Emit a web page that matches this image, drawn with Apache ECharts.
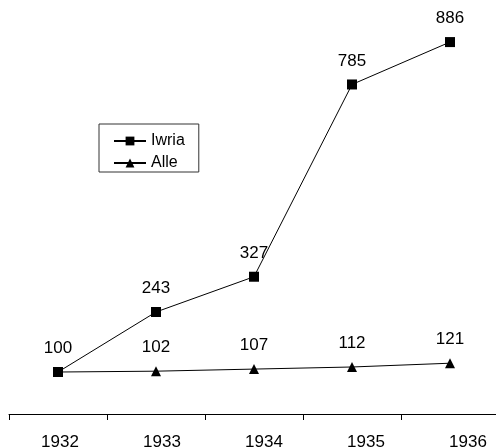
<!DOCTYPE html>
<html><head><meta charset="utf-8">
<script src="https://cdn.jsdelivr.net/npm/echarts@6/dist/echarts.min.js"></script>
<style>html,body{margin:0;padding:0;background:#fff}#c{width:496px;height:447px}</style>
</head><body><div id="c"></div>
<script>
const categories = ['1932','1933','1934','1935','1936'];
const iwria = [100, 243, 327, 785, 886];
const alle = [100, 102, 107, 112, 121];
const seriesNames = ['Iwria','Alle'];

const FONT = '"Liberation Sans", Arial, sans-serif';
const chart = echarts.init(document.getElementById('c'));
const labelStyle = {show:true, position:'top', distance:10, color:'#000', fontSize:17, fontFamily:FONT};
chart.setOption({
  animation:false,
  backgroundColor:'#fff',
  textStyle:{fontFamily:FONT},
  grid:[
    {left:9, width:490, top:36.2, bottom:33, containLabel:false, outerBoundsMode:'none'},
    {left:9, width:510, top:36.2, bottom:33, containLabel:false, outerBoundsMode:'none'}
  ],
  legend:{
    data:seriesNames, orient:'vertical', left:99, top:124,
    itemWidth:32, itemHeight:11, itemGap:6,
    padding:[9,14,1,14], borderColor:'#333', borderWidth:1,
    textStyle:{fontSize:16, color:'#000', fontFamily:FONT}
  },
  xAxis:[
    {type:'category', gridIndex:0, data:categories, boundaryGap:true,
     axisLine:{lineStyle:{color:'#000', width:1}},
     axisTick:{show:true, length:6, lineStyle:{color:'#000'}},
     axisLabel:{show:false}},
    {type:'category', gridIndex:1, data:categories, boundaryGap:true,
     axisLine:{show:false}, axisTick:{show:false},
     axisLabel:{show:true, margin:20, color:'#000', fontSize:17, fontFamily:FONT}}
  ],
  yAxis:[
    {type:'value', gridIndex:0, min:0, max:900, show:false},
    {type:'value', gridIndex:1, min:0, max:900, show:false}
  ],
  series:[
    {name:'Iwria', type:'line', data:iwria, symbol:'rect', symbolSize:10,
     lineStyle:{color:'#000', width:1}, itemStyle:{color:'#000'}, label:labelStyle},
    {name:'Alle', type:'line', data:alle.map((v,i)=> i===0 ? {value:v, label:{show:false}} : v),
     symbol:'triangle', symbolSize:10,
     lineStyle:{color:'#000', width:1}, itemStyle:{color:'#000'}, label:labelStyle}
  ]
});
</script></body></html>
